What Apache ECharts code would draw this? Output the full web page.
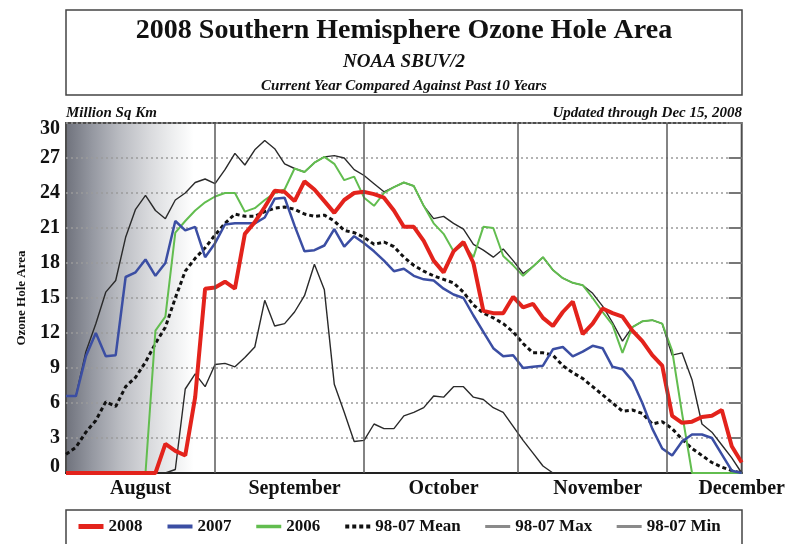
<!DOCTYPE html>
<html>
<head>
<meta charset="utf-8">
<script src="https://cdn.jsdelivr.net/npm/echarts@6/dist/echarts.min.js"></script>
<style>
  html, body { margin: 0; padding: 0; background: #ffffff; }
  #chart { width: 788px; height: 544px; }
</style>
</head>
<body>
<div id="chart"></div>
<script>
// Day index: 1 = Aug 1, 32 = Sep 1, 62 = Oct 1, 93 = Nov 1, 123 = Dec 1
const days = [2,4,6,8,10,12,14,16,18,20, 22,24,26,28,30,32,34,36,38,40,
  42,44,46,48,50,52,54,56,58,60, 62,64,66,68,70,72,74,76,78,80,
  82,84,86,88,90,92,94,96,98,100, 102,104,106,108,110,112,114,116,118,120,
  122,124,126,128,130,132,134,136,138];

// Ozone hole area, million sq km
const area2008 = [0,0,0,0,0,0,0,0,0,0, 2.5,1.9,1.5,6.5,15.8,15.9,16.4,15.8,20.5,21.5,
  22.8,24.2,24.1,23.3,25.0,24.3,23.3,22.3,23.4,24.0, 24.1,23.9,23.6,22.5,21.1,21.1,19.9,18.2,17.2,19.0,
  19.8,18.0,13.9,13.7,13.7,15.1,14.2,14.5,13.3,12.6, 13.8,14.7,11.9,12.8,14.1,13.7,13.4,12.2,11.3,10.1,
  9.2,4.9,4.3,4.4,4.8,4.9,5.4,2.3,0.9];
const area2007 = [6.6,6.6,10.0,12.0,10.0,10.1,16.8,17.2,18.3,16.9, 18.0,21.6,20.8,21.1,18.5,19.7,21.3,21.4,21.4,21.4,
  21.9,23.5,23.6,21.2,19.0,19.1,19.5,20.9,19.4,20.3, 19.7,19.0,18.2,17.3,17.5,16.9,16.6,16.5,15.8,15.3,
  15.0,13.5,12.1,10.7,10.0,10.1,9.0,9.1,9.2,10.6, 10.8,10.0,10.4,10.9,10.7,9.1,8.9,7.9,6.0,3.8,
  2.1,1.5,2.7,3.3,3.3,3.0,1.6,0.2,0];
const area2006 = [0,0,0,0,0,0,0,0,0,12.2, 13.4,20.6,21.6,22.5,23.2,23.7,24.0,24.0,22.4,22.7,
  23.4,24.0,24.3,26.1,25.8,26.6,27.1,26.5,25.1,25.4, 23.6,22.9,24.0,24.5,24.9,24.6,22.9,21.4,20.5,19.0,
  19.6,18.5,21.1,21.0,18.6,17.8,16.9,17.7,18.5,17.4, 16.7,16.3,16.1,15.0,13.8,12.7,10.3,12.5,13.0,13.1,
  12.8,10.5,5.1,0,0,0,0,0,0];
const mean9807 = [1.6,2.2,3.5,4.5,6.1,5.7,7.4,8.2,9.5,11.1, 12.5,15.0,17.3,18.4,19.3,20.4,21.4,22.2,22.0,22.0,
  22.4,22.7,22.8,22.6,22.2,22.0,22.1,21.6,20.8,20.6, 20.2,19.6,19.8,19.4,18.5,17.8,17.3,16.9,16.6,16.3,
  15.5,14.4,13.7,13.3,12.8,12.1,11.1,10.3,10.3,10.1, 9.2,8.6,8.1,7.4,6.7,6.0,5.3,5.4,5.1,4.2,
  4.4,3.8,2.9,2.1,1.5,0.9,0.5,0.2,0];
const max9807 = [6.6,6.6,10.4,12.8,15.5,16.5,20.2,22.6,23.8,22.5, 21.8,23.4,24.0,24.9,25.2,24.8,26.0,27.4,26.4,27.7,
  28.5,27.8,26.5,26.1,25.8,26.6,27.1,27.2,27.0,26.0, 25.5,24.8,24.1,24.5,24.9,24.6,22.9,21.8,22.0,21.4,
  20.9,19.6,19.1,18.5,19.2,18.2,17.1,17.7,18.5,17.4, 16.7,16.3,16.1,15.4,14.3,12.9,11.3,12.5,13.0,13.1,
  12.8,10.1,10.3,8.0,4.2,3.5,2.4,1.3,0];
const min9807 = [0,0,0,0,0,0,0,0,0,0, 0,0.3,7.2,8.5,7.4,9.3,9.4,9.1,9.9,10.8,
  14.8,12.6,12.8,13.8,15.2,17.9,15.7,7.6,5.2,2.7, 2.8,4.2,3.8,3.8,4.9,5.2,5.6,6.6,6.5,7.4,
  7.4,6.5,6.3,5.6,5.2,4.0,2.8,1.7,0.6,0, 0,0,0,0,0,0,0,0,0,0,
  0,0,0,0,0,0,0,0,0];

// Axis labelling
const monthNames = ['August', 'September', 'October', 'November', 'December'];
const monthLabelDays = [17, 48, 78, 109, 138];
const monthStartDays = [32, 62, 93, 123];
const yMin = 0, yMax = 30, yStep = 3;

const SERIF = '"Liberation Serif", "DejaVu Serif", serif';
const INK = '#111111';

const pairs = arr => days.map((d, i) => [d, arr[i]]);

const chart = echarts.init(document.getElementById('chart'), null, { renderer: 'canvas' });

const baseLine = (name, data, color, width, extra) => Object.assign({
  name, type: 'line', data: pairs(data), symbol: 'none', showSymbol: false,
  lineStyle: { color, width }, itemStyle: { color },
  emphasis: { disabled: true }, silent: true
}, extra || {});

const yLabelStyle = { fontFamily: SERIF, fontWeight: 'bold', fontSize: 20, color: INK };

chart.setOption({
  animation: false,
  backgroundColor: '#ffffff',
  grid: {
    left: 66, right: 46, top: 123, bottom: 71,
    show: true, borderColor: '#4d4d4d', borderWidth: 2,
    backgroundColor: new echarts.graphic.LinearGradient(0, 0, 1, 0, [
      { offset: 0, color: '#6e717b' },
      { offset: 0.04, color: '#9598a1' },
      { offset: 0.08, color: '#b9bbc1' },
      { offset: 0.125, color: '#d9dadd' },
      { offset: 0.16, color: '#eeeff0' },
      { offset: 0.19, color: '#ffffff' },
      { offset: 1, color: '#ffffff' }
    ])
  },
  xAxis: {
    type: 'value', min: 2, max: 138,
    axisLine: { show: true, lineStyle: { color: '#222222', width: 2 } },
    axisTick: { show: false },
    splitLine: { show: false },
    axisLabel: {
      customValues: monthLabelDays,
      formatter: v => monthNames[monthLabelDays.indexOf(v)] || '',
      fontFamily: SERIF, fontWeight: 'bold', fontSize: 20, color: INK, margin: 6
    }
  },
  yAxis: [{
    type: 'value', min: yMin, max: yMax, interval: yStep,
    name: 'Ozone Hole Area', nameLocation: 'middle', nameGap: 38,
    nameTextStyle: { fontFamily: SERIF, fontWeight: 'bold', fontSize: 13, color: INK },
    axisLine: { show: false }, axisTick: { show: false },
    axisLabel: Object.assign({}, yLabelStyle, {
      margin: 6,
      formatter: v => v === yMax ? '{t|' + v + '}' : (v === yMin ? '{b|' + v + '}' : String(v)),
      rich: {
        t: Object.assign({}, yLabelStyle, { padding: [12, 0, 0, 0] }),
        b: Object.assign({}, yLabelStyle, { padding: [0, 0, 12, 0] })
      }
    }),
    splitLine: { show: true, lineStyle: { color: '#9b9b9b', type: [2, 3], width: 1.5 } }
  }, {
    type: 'value', min: yMin, max: yMax, interval: yStep, position: 'right',
    axisLine: { show: false },
    axisLabel: { show: false },
    axisTick: { show: true, inside: true, length: 13, lineStyle: { color: '#777777', width: 2 } },
    splitLine: { show: false }
  }],
  legend: {
    left: 76, top: 518, padding: 0, itemWidth: 25, itemHeight: 12, itemGap: 23,
    selectedMode: false,
    itemStyle: { opacity: 0 },
    textStyle: { fontFamily: SERIF, fontWeight: 'bold', fontSize: 17, color: INK },
    data: [
      { name: '2008', lineStyle: { width: 5 } },
      { name: '2007', lineStyle: { width: 4 } },
      { name: '2006', lineStyle: { width: 3.5 } },
      { name: '98-07 Mean', lineStyle: { width: 4, type: [4, 3] } },
      { name: '98-07 Max', lineStyle: { color: '#8a8a8a', width: 3 } },
      { name: '98-07 Min', lineStyle: { color: '#8a8a8a', width: 3 } }
    ]
  },
  graphic: [
    { type: 'rect', shape: { x: 66, y: 10, width: 676, height: 85 },
      style: { fill: 'none', stroke: '#444444', lineWidth: 1.5 } },
    { type: 'rect', shape: { x: 66, y: 510, width: 676, height: 60 },
      style: { fill: 'none', stroke: '#444444', lineWidth: 1.5 } },
    { type: 'text', x: 404, y: 31,
      style: { text: '2008 Southern Hemisphere Ozone Hole Area', font: 'bold 28px ' + SERIF,
        fill: INK, textAlign: 'center', textVerticalAlign: 'middle' } },
    { type: 'text', x: 404, y: 62,
      style: { text: 'NOAA SBUV/2', font: 'italic bold 19px ' + SERIF,
        fill: INK, textAlign: 'center', textVerticalAlign: 'middle' } },
    { type: 'text', x: 404, y: 86,
      style: { text: 'Current Year Compared Against Past 10 Years', font: 'italic bold 15px ' + SERIF,
        fill: INK, textAlign: 'center', textVerticalAlign: 'middle' } },
    { type: 'text', x: 66, y: 113,
      style: { text: 'Million Sq Km', font: 'italic bold 15px ' + SERIF,
        fill: INK, textAlign: 'left', textVerticalAlign: 'middle' } },
    { type: 'text', x: 742, y: 113,
      style: { text: 'Updated through Dec 15, 2008', font: 'italic bold 15px ' + SERIF,
        fill: INK, textAlign: 'right', textVerticalAlign: 'middle' } }
  ],
  series: [
    baseLine('98-07 Max', max9807, '#2a2a2a', 1.4, {
      markLine: {
        silent: true, symbol: ['none', 'none'], label: { show: false },
        emphasis: { disabled: true },
        lineStyle: { color: '#5a5a5a', width: 1.5, type: 'solid' },
        data: monthStartDays.map(d => ({ xAxis: d }))
      }
    }),
    baseLine('98-07 Min', min9807, '#2a2a2a', 1.4),
    baseLine('98-07 Mean', mean9807, '#111111', 3, {
      lineStyle: { color: '#111111', width: 3, type: [4, 3] }
    }),
    baseLine('2006', area2006, '#62bd4f', 2),
    baseLine('2007', area2007, '#3b4ea3', 2.5),
    baseLine('2008', area2008, '#e3231c', 4)
  ]
});
</script>
</body>
</html>
